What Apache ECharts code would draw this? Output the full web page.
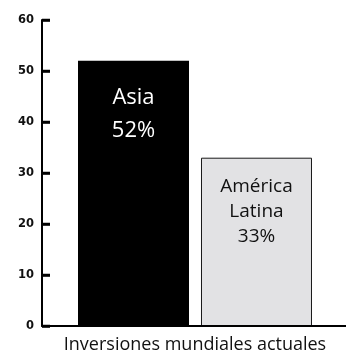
<!DOCTYPE html>
<html>
<head>
<meta charset="utf-8">
<script src="https://cdn.jsdelivr.net/npm/echarts@6/dist/echarts.min.js"></script>
<style>
  html, body { margin: 0; padding: 0; background: #fff; }
  #chart { width: 346px; height: 356px; }
</style>
</head>
<body>
<div id="chart"></div>
<script>
// datos del gráfico
var categories = ['Asia', 'América Latina'];
var asiaValues = [52, null];
var latamValues = [null, 33];
var pctLabels = ['52%', '33%'];
var tickValues = [0, 10, 20, 30, 40, 50, 60];
var axisTitle = 'Inversiones mundiales actuales';

var chart = echarts.init(document.getElementById('chart'));

var option = {
  animation: false,
  grid: [
    { left: 42, right: -2, top: 20, bottom: 30, containLabel: false, outerBoundsMode: 'none' },
    // rejilla estrecha para las marcas hacia dentro del eje
    { left: 42, width: 8, top: 20, bottom: 30, containLabel: false, outerBoundsMode: 'none' }
  ],
  xAxis: [
    {
      type: 'category',
      data: categories,
      axisLine: { lineStyle: { color: '#000', width: 2 } },
      axisTick: { show: false },
      axisLabel: { show: false },
      name: axisTitle,
      nameLocation: 'middle',
      nameGap: 10,
      nameTextStyle: { fontFamily: 'Open Sans', fontSize: 18, color: '#111' },
      z: 3
    },
    { gridIndex: 1, type: 'value', min: 0, max: 1, show: false }
  ],
  yAxis: [
    {
      type: 'value',
      min: 0,
      max: 60,
      interval: 10,
      splitLine: { show: false },
      axisLine: { show: true, lineStyle: { color: '#000', width: 2 } },
      axisTick: { show: true, inside: true, length: 8, lineStyle: { color: '#000', width: 2.5 } },
      axisLabel: { fontFamily: 'DejaVu Sans', fontWeight: 'bold', fontSize: 11.5, color: '#111', margin: 8 },
      z: 3
    },
    {
      gridIndex: 1,
      type: 'value',
      min: 0,
      max: 60,
      interval: 10,
      show: false
    }
  ],
  series: [
    {
      // va en la ranura izquierda de cada categoría
      type: 'bar',
      name: categories[1],
      data: latamValues,
      barWidth: 111,
      barGap: '-72.97%',
      itemStyle: { color: '#e2e2e4', borderColor: '#1a1a1a', borderWidth: 1 },
      label: {
        show: true,
        position: 'insideTop',
        distance: 16,
        formatter: 'América\nLatina\n' + pctLabels[1],
        fontFamily: 'Open Sans',
        fontSize: 19,
        lineHeight: 25,
        color: '#111'
      }
    },
    {
      type: 'bar',
      name: categories[0],
      data: asiaValues,
      barWidth: 111,
      barGap: '-72.97%',
      itemStyle: { color: '#000' },
      label: {
        show: true,
        position: 'insideTop',
        distance: 20,
        formatter: categories[0] + '\n' + pctLabels[0],
        fontFamily: 'Open Sans',
        fontSize: 22,
        lineHeight: 33,
        color: '#fff'
      }
    },
    {
      // marcas del eje y
      type: 'scatter',
      xAxisIndex: 1,
      yAxisIndex: 1,
      symbol: 'rect',
      symbolSize: [8, 2.5],
      silent: true,
      z: 10,
      itemStyle: { color: '#000', opacity: 1 },
      data: tickValues.map(function (v) { return [0.5, v]; })
    }
  ]
};

chart.setOption(option);
</script>
</body>
</html>
